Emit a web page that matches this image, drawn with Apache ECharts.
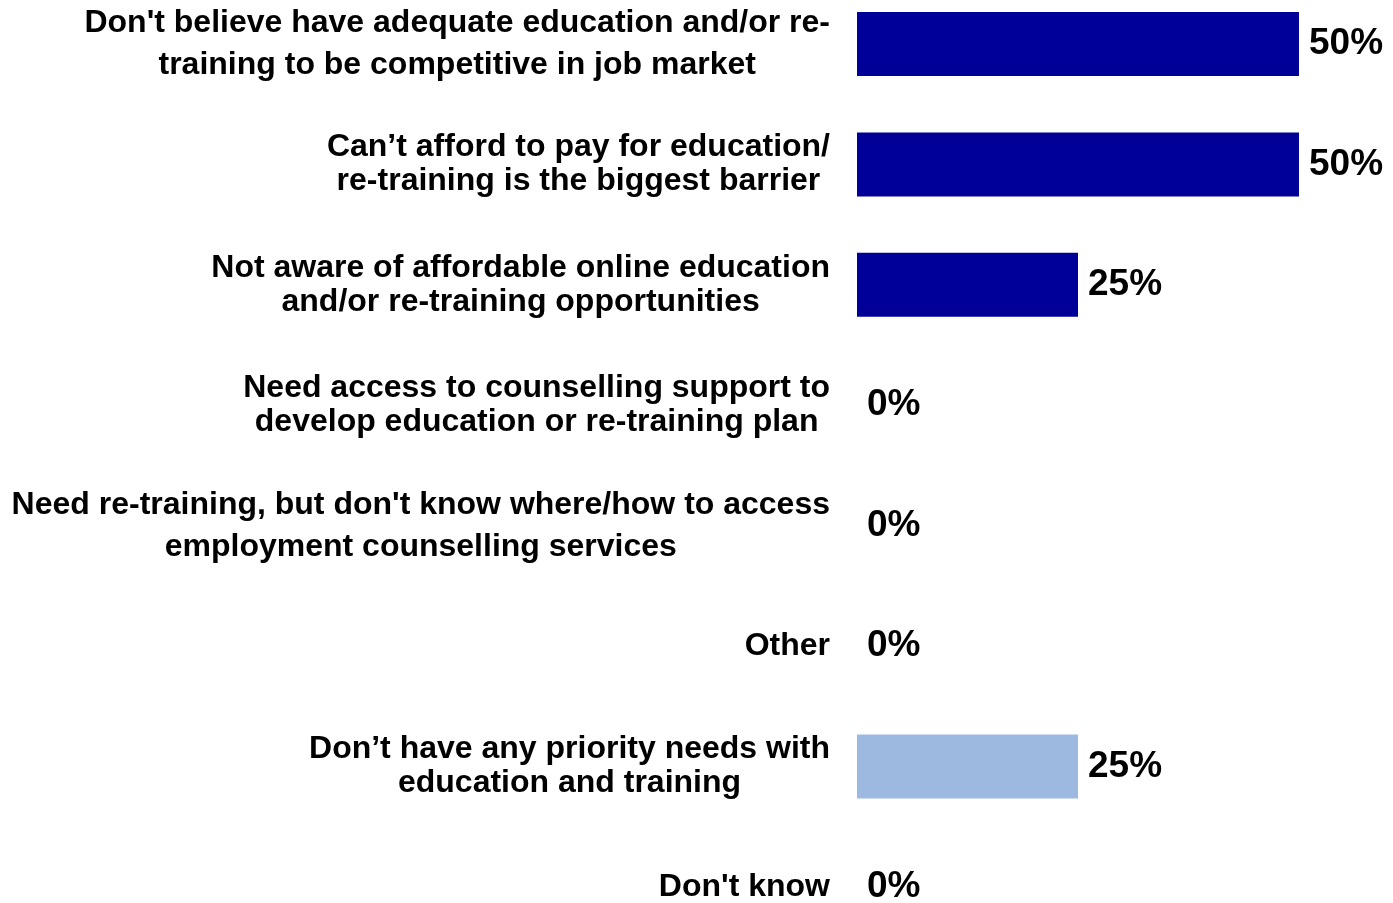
<!DOCTYPE html>
<html>
<head>
<meta charset="utf-8">
<script src="https://cdn.jsdelivr.net/npm/echarts@6/dist/echarts.min.js"></script>
<style>
html,body{margin:0;padding:0;background:#fff;}
#chart{width:1393px;height:903px;}
</style>
</head>
<body>
<div id="chart"></div>
<script>
const categories = [
  "Don't believe have adequate education and/or re-\ntraining to be competitive in job market",
  "Can\u2019t afford to pay for education/\nre-training is the biggest barrier",
  "Not aware of affordable online education\nand/or re-training opportunities",
  "Need access to counselling support to\ndevelop education or re-training plan",
  "Need re-training, but don't know where/how to access\nemployment counselling services",
  "Other",
  "Don\u2019t have any priority needs with\neducation and training",
  "Don't know"
];
const barrierValues = [50, 50, 25, 0, 0, 0, '-', '-'];
const noNeedValues = ['-', '-', '-', '-', '-', '-', 25, 0];
const axisMax = 50;

const FONT = "'Liberation Sans', Arial, sans-serif";
const wideSpacing = [0, 4];
const chart = echarts.init(document.getElementById('chart'), null, {renderer: 'canvas'});

const labelStyle = {
  show: true,
  position: 'right',
  distance: 10,
  formatter: '{c}%',
  color: '#000',
  fontFamily: FONT,
  fontWeight: 'bold',
  fontSize: 37
};

chart.setOption({
  animation: false,
  backgroundColor: '#fff',
  grid: {left: 857, width: 442, top: 44, bottom: 14, containLabel: false},
  xAxis: {
    type: 'value', min: 0, max: axisMax, show: false
  },
  yAxis: {
    type: 'category',
    inverse: true,
    boundaryGap: false,
    data: categories,
    axisLine: {show: false},
    axisTick: {show: false},
    splitLine: {show: false},
    axisLabel: {
      margin: 27,
      align: 'right',
      interval: 0,
      formatter: function (v, i) {
        const key = wideSpacing.indexOf(i) >= 0 ? 'w' : 'n';
        return v.split('\n').map(l => '{' + key + '|' + l + '}').join('\n');
      },
      rich: {
        n: {align: 'center', lineHeight: 34, fontSize: 32, fontWeight: 'bold', fontFamily: FONT, color: '#000'},
        w: {align: 'center', lineHeight: 42, fontSize: 32, fontWeight: 'bold', fontFamily: FONT, color: '#000'}
      }
    }
  },
  series: [
    {
      name: 'Barriers', type: 'bar', data: barrierValues, barWidth: 64, barGap: '-100%',
      itemStyle: {color: '#000099'}, label: labelStyle
    },
    {
      name: 'No needs', type: 'bar', data: noNeedValues, barWidth: 64, barGap: '-100%',
      itemStyle: {color: '#9DB9DF'}, label: labelStyle
    }
  ]
});
</script>
</body>
</html>
